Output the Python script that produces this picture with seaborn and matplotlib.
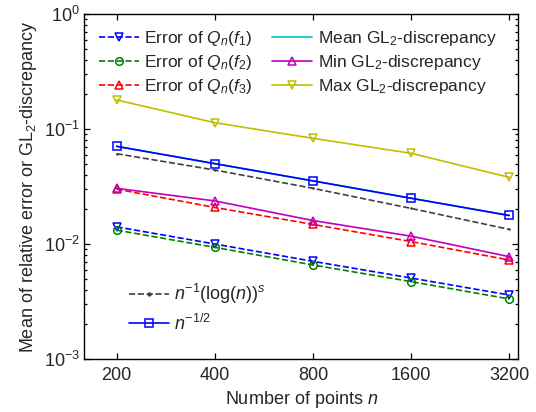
import numpy as np
import pandas as pd
import matplotlib
matplotlib.use("Agg")
import matplotlib.pyplot as plt
import seaborn as sns
from matplotlib.lines import Line2D
from matplotlib.ticker import LogLocator, FixedLocator, FixedFormatter, NullFormatter

# ---- data ----
n_points = [200, 400, 800, 1600, 3200]
x_tick_labels = ["200", "400", "800", "1600", "3200"]
err_f1 = [0.0141, 0.0100, 0.00707, 0.00506, 0.00360]
err_f2 = [0.0132, 0.00936, 0.00657, 0.00471, 0.00333]
err_f3 = [0.0300, 0.0208, 0.0148, 0.0105, 0.00726]
mean_gl2 = [0.0707, 0.0500, 0.0354, 0.0250, 0.0177]
min_gl2 = [0.0305, 0.0237, 0.0160, 0.0117, 0.00776]
max_gl2 = [0.179, 0.1135, 0.0830, 0.0615, 0.0380]
ref_log = [0.0610, 0.0440, 0.0305, 0.0204, 0.0134]
ref_sqrt = [0.0707, 0.0500, 0.0354, 0.0250, 0.0177]

sns.set_style("ticks")
plt.rcParams['font.family'] = ['Liberation Sans', 'DejaVu Sans']
plt.rcParams['mathtext.fontset'] = 'custom'
plt.rcParams['mathtext.rm'] = 'Liberation Sans'
plt.rcParams['mathtext.it'] = 'Liberation Sans:italic'
plt.rcParams['mathtext.bf'] = 'Liberation Sans:bold'

fig = plt.figure(figsize=(5.36, 4.12), dpi=100)
ax = fig.add_axes([0.1576, 0.1286, 0.967 - 0.1576, 0.966 - 0.1286])

lw = 1.2
ms = 5.5
mew = 1.1

series = [
    # values, color, linestyle, marker, label, zorder
    (mean_gl2, 'c', '-', None, r'Mean GL$_2$-discrepancy', 2),
    (err_f1, 'b', '--', 'v', r'Error of $Q_n(f_1)$', 3),
    (err_f2, 'g', '--', 'o', r'Error of $Q_n(f_2)$', 3),
    (err_f3, 'r', '--', '^', r'Error of $Q_n(f_3)$', 3),
    (min_gl2, 'm', '-', '^', r'Min GL$_2$-discrepancy', 3),
    (max_gl2, 'y', '-', 'v', r'Max GL$_2$-discrepancy', 3),
    (ref_log, '#404040', '--', '.', r'$n^{-1}(\log(n))^s$', 3),
    (ref_sqrt, 'b', '-', 's', r'$n^{-1/2}$', 4),
]

handles = {}
for vals, col, ls, mk, lab, z in series:
    df = pd.DataFrame({"n": n_points, "v": vals})
    sns.lineplot(data=df, x="n", y="v", ax=ax, color=col, linestyle=ls,
                 marker=mk if mk else None,
                 markersize=(ms if mk != '.' else 1.5),
                 markerfacecolor='none' if mk != '.' else col,
                 markeredgecolor=col, markeredgewidth=mew,
                 linewidth=lw, zorder=z, legend=False)
    handles[lab] = Line2D([], [], color=col, linestyle=ls, marker=mk,
                          markersize=(ms if mk != '.' else 4),
                          markerfacecolor='none' if mk != '.' else col,
                          markeredgecolor=col, markeredgewidth=mew, linewidth=lw)

ax.set_xscale('log', base=2)
ax.set_yscale('log')
ax.set_xlim(159.4, 3410)
ax.set_ylim(1e-3, 1e0)
ax.xaxis.set_major_locator(FixedLocator(n_points))
ax.xaxis.set_major_formatter(FixedFormatter(x_tick_labels))
ax.xaxis.set_minor_locator(FixedLocator([]))
ax.yaxis.set_major_locator(LogLocator(base=10, numticks=10))
ax.yaxis.set_minor_locator(LogLocator(base=10, subs=np.arange(2, 10), numticks=20))
ax.yaxis.set_minor_formatter(NullFormatter())

ax.tick_params(which='both', direction='in', top=True, right=True, labelsize=13,
               color='black', width=0.9)
ax.tick_params(axis='x', pad=6)
ax.tick_params(which='major', length=4)
ax.tick_params(which='minor', length=2.5)
for sp in ax.spines.values():
    sp.set_linewidth(1.0)
    sp.set_color('black')

ax.set_xlabel(r'Number of points $n$', fontsize=13, labelpad=3)
ax.set_ylabel(r'Mean of relative error or GL$_2$-discrepancy', fontsize=13, labelpad=3)

order1 = [r'Error of $Q_n(f_1)$', r'Error of $Q_n(f_2)$', r'Error of $Q_n(f_3)$',
          r'Mean GL$_2$-discrepancy', r'Min GL$_2$-discrepancy', r'Max GL$_2$-discrepancy']
leg1 = ax.legend([handles[k] for k in order1], order1, ncol=2, loc='upper left',
                 bbox_to_anchor=(0.0, 1.0), frameon=False, fontsize=12.5,
                 handlelength=2.3, handletextpad=0.3, columnspacing=1.15,
                 labelspacing=0.3, borderaxespad=0.45)
ax.add_artist(leg1)
order2 = [r'$n^{-1}(\log(n))^s$', r'$n^{-1/2}$']
ax.legend([handles[k] for k in order2], order2, loc='upper left',
          bbox_to_anchor=(0.065, 0.27), frameon=False, fontsize=13,
          handlelength=2.2, handletextpad=0.3, labelspacing=0.4)

fig.savefig("out.png", dpi=100)
